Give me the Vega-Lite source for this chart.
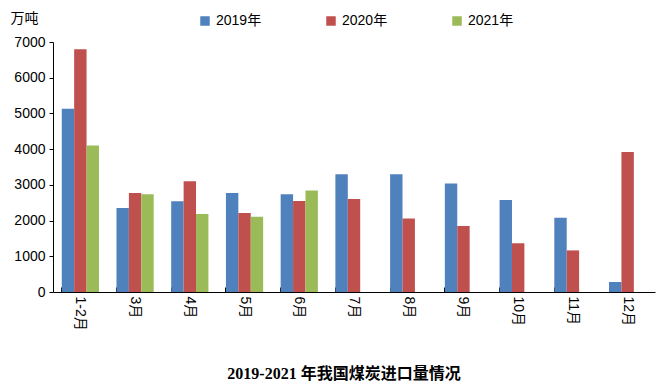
{
  "$schema": "https://vega.github.io/schema/vega-lite/v6.json",
  "width": 602,
  "height": 250,
  "autosize": {"type": "none"},
  "padding": {"left": 53, "top": 42, "right": 9, "bottom": 95},
  "background": "white",
  "title": {
    "text": "2019-2021 年我国煤炭进口量情况",
    "orient": "bottom",
    "anchor": "middle",
    "dx": -10,
    "offset": 36,
    "font": "Liberation Serif, Noto Sans CJK SC",
    "fontSize": 16,
    "fontWeight": "bold",
    "color": "#000000"
  },
  "config": {
    "view": {"stroke": null},
    "font": "Liberation Sans, Noto Sans CJK SC",
    "axis": {"domainColor": "#000000", "tickColor": "#000000", "labelColor": "#000000", "grid": false}
  },
  "data": {
    "values": [
      {"month": "1-2月", "year": "2019年", "value": 5130},
      {"month": "1-2月", "year": "2020年", "value": 6800},
      {"month": "1-2月", "year": "2021年", "value": 4105},
      {"month": "3月", "year": "2019年", "value": 2350},
      {"month": "3月", "year": "2020年", "value": 2770},
      {"month": "3月", "year": "2021年", "value": 2735},
      {"month": "4月", "year": "2019年", "value": 2540},
      {"month": "4月", "year": "2020年", "value": 3100},
      {"month": "4月", "year": "2021年", "value": 2185},
      {"month": "5月", "year": "2019年", "value": 2775},
      {"month": "5月", "year": "2020年", "value": 2210},
      {"month": "5月", "year": "2021年", "value": 2110},
      {"month": "6月", "year": "2019年", "value": 2735},
      {"month": "6月", "year": "2020年", "value": 2550},
      {"month": "6月", "year": "2021年", "value": 2840},
      {"month": "7月", "year": "2019年", "value": 3295},
      {"month": "7月", "year": "2020年", "value": 2605},
      {"month": "8月", "year": "2019年", "value": 3295},
      {"month": "8月", "year": "2020年", "value": 2055},
      {"month": "9月", "year": "2019年", "value": 3035},
      {"month": "9月", "year": "2020年", "value": 1850},
      {"month": "10月", "year": "2019年", "value": 2575},
      {"month": "10月", "year": "2020年", "value": 1365},
      {"month": "11月", "year": "2019年", "value": 2080},
      {"month": "11月", "year": "2020年", "value": 1165},
      {"month": "12月", "year": "2019年", "value": 280},
      {"month": "12月", "year": "2020年", "value": 3920}
    ]
  },
  "mark": {"type": "bar"},
  "encoding": {
    "x": {
      "field": "month",
      "type": "nominal",
      "sort": ["1-2月", "3月", "4月", "5月", "6月", "7月", "8月", "9月", "10月", "11月", "12月"],
      "scale": {"paddingInner": 0.32, "paddingOuter": 0.16},
      "axis": {
        "title": null,
        "labelAngle": 90,
        "labelAlign": "left",
        "labelBaseline": "middle",
        "labelFontSize": 14,
        "labelPadding": 9,
        "bandPosition": 0,
        "tickSize": -5,
        "domainWidth": 1,
        "tickWidth": 1
      }
    },
    "xOffset": {
      "field": "year",
      "type": "nominal",
      "scale": {"domain": ["2019年", "2020年", "2021年"], "paddingInner": 0, "paddingOuter": 0}
    },
    "y": {
      "field": "value",
      "type": "quantitative",
      "scale": {"domain": [0, 7000], "nice": false},
      "axis": {
        "values": [0, 1000, 2000, 3000, 4000, 5000, 6000, 7000],
        "format": "d",
        "title": "万吨",
        "titleAngle": 0,
        "titleAlign": "left",
        "titleBaseline": "alphabetic",
        "titleX": -43,
        "titleY": -20,
        "titleFontSize": 14,
        "titleFontWeight": "normal",
        "titleColor": "#000000",
        "labelFontSize": 14,
        "tickSize": 4,
        "labelPadding": 4
      }
    },
    "color": {
      "field": "year",
      "type": "nominal",
      "scale": {"domain": ["2019年", "2020年", "2021年"], "range": ["#4F81BD", "#C0504D", "#9BBB59"]},
      "legend": {
        "title": null,
        "orient": "none",
        "direction": "horizontal",
        "legendX": 145,
        "legendY": -28,
        "symbolType": "square",
        "symbolSize": 90,
        "symbolStrokeWidth": 0,
        "labelFontSize": 14,
        "labelColor": "#000000",
        "labelOffset": 4,
        "columnPadding": 62
      }
    }
  }
}
